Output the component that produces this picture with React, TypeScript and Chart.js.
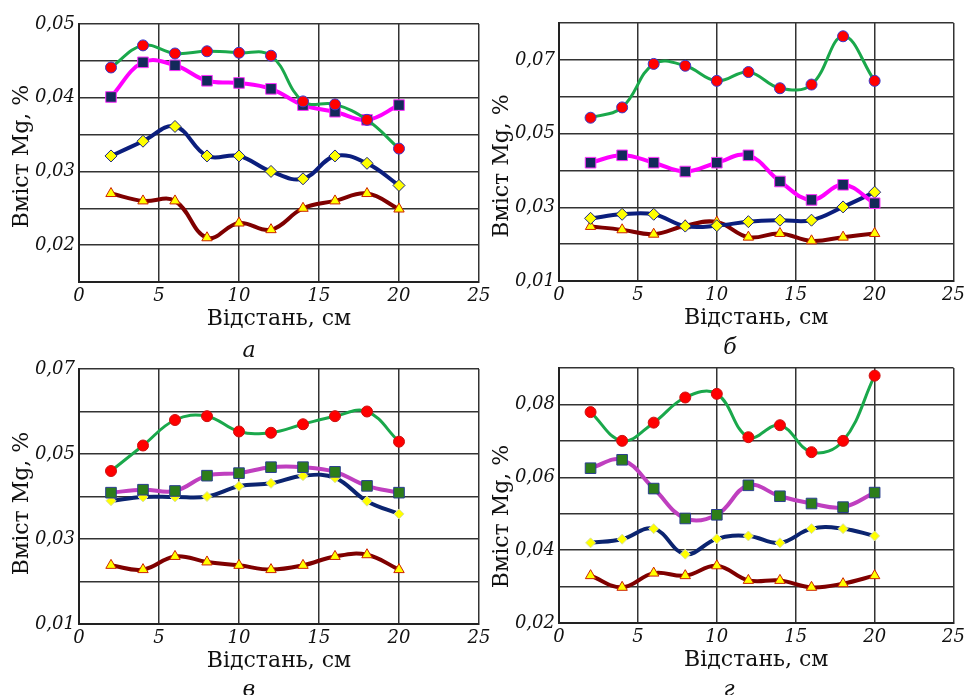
import React, { useEffect, useRef } from "react";
import { Chart, registerables } from "chart.js";

Chart.register(...registerables);

// ---- data ----
const distances = [2, 4, 6, 8, 10, 12, 14, 16, 18, 20];
const xTicks = [0, 5, 10, 15, 20, 25];

const aGreen = [0.0441, 0.0471, 0.046, 0.0463, 0.0461, 0.0457, 0.0395, 0.0391, 0.037, 0.0331];
const aMagenta = [0.0401, 0.0448, 0.0444, 0.0423, 0.042, 0.0412, 0.039, 0.0381, 0.037, 0.039];
const aNavy = [0.0321, 0.0341, 0.0361, 0.0321, 0.0321, 0.03, 0.029, 0.0321, 0.0311, 0.0281];
const aMaroon = [0.027, 0.026, 0.026, 0.021, 0.023, 0.0221, 0.025, 0.026, 0.027, 0.0249];

const bGreen = [0.0543, 0.0571, 0.0689, 0.0684, 0.0643, 0.0667, 0.0623, 0.0633, 0.0764, 0.0643];
const bMagenta = [0.0421, 0.0441, 0.0421, 0.0397, 0.0421, 0.0441, 0.037, 0.032, 0.0361, 0.0311];
const bNavy = [0.027, 0.0281, 0.0281, 0.0249, 0.025, 0.0261, 0.0265, 0.0265, 0.0301, 0.0341];
const bMaroon = [0.0248, 0.0239, 0.0227, 0.025, 0.026, 0.0219, 0.0229, 0.0209, 0.0219, 0.0229];

const cGreen = [0.046, 0.052, 0.058, 0.0589, 0.0553, 0.055, 0.057, 0.0589, 0.06, 0.0529];
const cMagenta = [0.0409, 0.0416, 0.0413, 0.0449, 0.0455, 0.0469, 0.0469, 0.0458, 0.0425, 0.0409];
const cNavy = [0.039, 0.0399, 0.0399, 0.04, 0.0424, 0.0431, 0.0449, 0.0444, 0.0389, 0.0359];
const cMaroon = [0.0238, 0.0228, 0.0259, 0.0246, 0.0238, 0.0228, 0.0238, 0.0259, 0.0263, 0.0228];

const dGreen = [0.0779, 0.07, 0.075, 0.0819, 0.0829, 0.071, 0.0743, 0.0669, 0.07, 0.0879];
const dMagenta = [0.0625, 0.0648, 0.0569, 0.0487, 0.0497, 0.0578, 0.0548, 0.0528, 0.0518, 0.0558];
const dNavy = [0.042, 0.043, 0.0459, 0.0389, 0.0431, 0.0439, 0.042, 0.0459, 0.0459, 0.0439];
const dMaroon = [0.033, 0.0298, 0.0337, 0.033, 0.0357, 0.0317, 0.0317, 0.0298, 0.0308, 0.033];

// labelled y ticks for each panel
const aYLabels = [0.02, 0.03, 0.04, 0.05];
const bYLabels = [0.01, 0.03, 0.05, 0.07];
const cYLabels = [0.01, 0.03, 0.05, 0.07];
const dYLabels = [0.02, 0.04, 0.06, 0.08];

const yTitle = "Вміст Mg, %";
const xTitle = "Відстань, см";
const panelLetters = ["а", "б", "в", "г"];

const SERIF = "'DejaVu Serif', serif";

type Style = {
  green: string; magenta: string; navy: string; maroon: string;
  circleBorder: string; circleR: number;
  squareFill: string; squareBorder: string; squareR: number;
  diamondBorder: string; diamondR: number;
};

const styleTop: Style = {
  green: "#1aa84b", magenta: "#ff00ff", navy: "#0b1e7d", maroon: "#7f0000",
  circleBorder: "#3a3acc", circleR: 5.5,
  squareFill: "#13295a", squareBorder: "#ff33ff", squareR: 7.5,
  diamondBorder: "#1a237e", diamondR: 6,
};
const styleBottom: Style = {
  green: "#1aa84b", magenta: "#bf3fbf", navy: "#0b2470", maroon: "#7f0000",
  circleBorder: "#cc1111", circleR: 5.5,
  squareFill: "#2d7d1a", squareBorder: "#2a3f8f", squareR: 7.5,
  diamondBorder: "#d8e0a8", diamondR: 5,
};

type PanelProps = {
  left: number; top: number; width: number; height: number;
  areaTop: number; areaBottom: number;
  yMin: number; yMax: number; yStep: number; yLabels: number[];
  green: number[]; magenta: number[]; navy: number[]; maroon: number[];
  style: Style; titleSpaces: number;
};

function Panel(p: PanelProps) {
  const ref = useRef<HTMLCanvasElement | null>(null);
  useEffect(() => {
    if (!ref.current) return;
    const s = p.style;
    const mk = (vals: number[]) => distances.map((x, i) => ({ x, y: vals[i] }));
    const base = { tension: 0.4, borderWidth: 4, pointBorderWidth: 1, fill: false };
    const chart = new Chart(ref.current, {
      type: "line",
      data: {
        datasets: [
          { ...base, data: mk(p.green), borderColor: s.green, borderWidth: 3, pointStyle: "circle", pointRadius: s.circleR, pointBackgroundColor: "#ff0000", pointBorderColor: s.circleBorder },
          { ...base, data: mk(p.magenta), borderColor: s.magenta, pointStyle: "rect", pointRadius: s.squareR, pointBackgroundColor: s.squareFill, pointBorderColor: s.squareBorder },
          { ...base, data: mk(p.navy), borderColor: s.navy, pointStyle: "rectRot", pointRadius: s.diamondR, pointBackgroundColor: "#ffff00", pointBorderColor: s.diamondBorder },
          { ...base, data: mk(p.maroon), borderColor: s.maroon, pointStyle: "triangle", pointRadius: 6, pointBackgroundColor: "#ffff00", pointBorderColor: "#cc2200" },
        ],
      },
      options: {
        responsive: false,
        animation: false,
        events: [],
        layout: {
          padding: { left: 0, top: p.areaTop, right: p.width - 79 - 400, bottom: p.height - p.areaBottom - 50 },
        },
        plugins: { legend: { display: false }, tooltip: { enabled: false } },
        scales: {
          x: {
            type: "linear", min: 0, max: 25,
            afterFit: (sc: any) => { sc.height = 50; },
            afterBuildTicks: (sc: any) => { sc.ticks = xTicks.map((v) => ({ value: v })); },
            ticks: { padding: 4, color: "#111", font: { family: SERIF, style: "italic", size: 18 }, maxRotation: 0 },
            grid: { color: "#333", lineWidth: 1.5, drawTicks: false },
            border: { color: "#222", width: 2 },
            title: { display: true, text: xTitle, color: "#111", font: { family: SERIF, size: 22, lineHeight: 1.2 }, padding: { top: 0, bottom: 0 } },
          },
          y: {
            type: "linear", min: p.yMin, max: p.yMax,
            afterFit: (sc: any) => { sc.width = 79; },
            ticks: {
              stepSize: p.yStep, padding: 4, color: "#111",
              font: { family: SERIF, style: "italic", size: 18 },
              callback: (v: any) => {
                const n = Number(v);
                const hit = p.yLabels.some((l) => Math.abs(l - n) < 1e-6);
                return hit ? n.toFixed(2).replace(".", ",") : "";
              },
            },
            grid: { color: "#333", lineWidth: 1.5, drawTicks: false },
            border: { color: "#222", width: 2 },
            title: { display: true, text: yTitle + " ".repeat(p.titleSpaces), color: "#111", font: { family: SERIF, size: 22, lineHeight: 1.2 }, padding: { top: 9, bottom: 0 } },
          },
        },
      } as any,
    });
    return () => chart.destroy();
  }, []);
  return (
    <canvas
      ref={ref}
      width={p.width}
      height={p.height}
      style={{ position: "absolute", left: p.left, top: p.top, width: p.width, height: p.height }}
    />
  );
}

const letterPos = [
  { x: 249, y: 350 },
  { x: 730, y: 347 },
  { x: 249, y: 689 },
  { x: 729, y: 689 },
];

export default function App() {
  return (
    <div style={{ position: "absolute", left: 0, top: 0, width: 969, height: 695, overflow: "hidden", background: "#fff" }}>
      <Panel left={0} top={0} width={500} height={345} areaTop={24} areaBottom={282}
        yMin={0.015} yMax={0.05} yStep={0.005} yLabels={aYLabels}
        green={aGreen} magenta={aMagenta} navy={aNavy} maroon={aMaroon} style={styleTop} titleSpaces={1} />
      <Panel left={480} top={0} width={489} height={345} areaTop={23} areaBottom={281}
        yMin={0.01} yMax={0.08} yStep={0.01} yLabels={bYLabels}
        green={bGreen} magenta={bMagenta} navy={bNavy} maroon={bMaroon} style={styleTop} titleSpaces={4} />
      <Panel left={0} top={345} width={500} height={350} areaTop={24} areaBottom={279}
        yMin={0.01} yMax={0.07} yStep={0.01} yLabels={cYLabels}
        green={cGreen} magenta={cMagenta} navy={cNavy} maroon={cMaroon} style={styleBottom} titleSpaces={2} />
      <Panel left={480} top={345} width={489} height={350} areaTop={23} areaBottom={278}
        yMin={0.02} yMax={0.09} yStep={0.01} yLabels={dYLabels}
        green={dGreen} magenta={dMagenta} navy={dNavy} maroon={dMaroon} style={styleBottom} titleSpaces={6} />
      {panelLetters.map((t, i) => (
        <div key={t} style={{
          position: "absolute", left: letterPos[i].x - 20, top: letterPos[i].y - 14, width: 40, height: 28,
          textAlign: "center", lineHeight: "28px", fontFamily: SERIF, fontStyle: "italic", fontSize: 22, color: "#111",
        }}>{t}</div>
      ))}
    </div>
  );
}
